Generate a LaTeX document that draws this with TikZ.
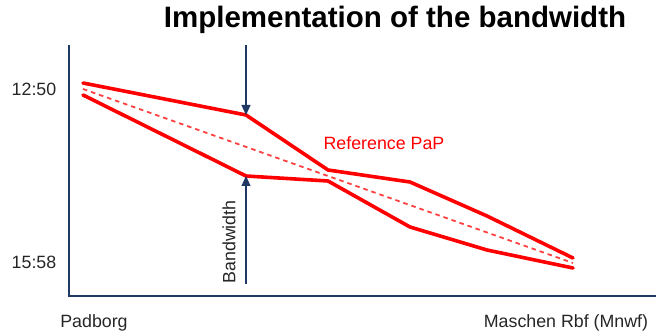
\documentclass[tikz,border=0pt]{standalone}
\usepackage{fontspec}
\setmainfont{Liberation Sans}
\usetikzlibrary{arrows.meta}
\definecolor{axisblue}{HTML}{1F3864}
\definecolor{labelgray}{HTML}{262626}
\begin{document}
\begin{tikzpicture}[x=1pt,y=-1pt,
  axisline/.style={draw=axisblue,line width=2.4pt},
  bandline/.style={draw=red,line width=3.6pt,line join=round,line cap=round},
  refline/.style={draw=red!75,line width=1.8pt,dash pattern=on 4.5pt off 4pt},
  marker/.style={draw=axisblue,line width=1.2pt,-{Triangle[width=9pt,length=10pt]}},
  lbl/.style={text=labelgray,font=\fontsize{17.8}{20}\selectfont,inner sep=0pt}]
  \useasboundingbox (0,0) rectangle (656,336);

  % axes
  \coordinate (top) at (69,45);
  \coordinate (origin) at (69,296);
  \coordinate (right) at (656,296);
  \draw[axisline] (top) -- (origin) -- (right);

  % upper band limit
  \coordinate (u1) at (83,83);
  \coordinate (u2) at (246,115);
  \coordinate (u3) at (328,170);
  \coordinate (u4) at (410,182);
  \coordinate (u5) at (487,216);
  \coordinate (u6) at (573,258);
  % lower band limit
  \coordinate (l1) at (83,95);
  \coordinate (l2) at (246,176);
  \coordinate (l3) at (328,181);
  \coordinate (l4) at (410,227);
  \coordinate (l5) at (487,250);
  \coordinate (l6) at (573,268);
  % reference path
  \coordinate (r1) at (83,89);
  \coordinate (r2) at (573,263);

  \draw[refline] (r1) -- (r2);
  \draw[bandline] (u1) -- (u2) -- (u3) -- (u4) -- (u5) -- (u6);
  \draw[bandline] (l1) -- (l2) -- (l3) -- (l4) -- (l5) -- (l6);

  % bandwidth markers
  \coordinate (mtop) at (246,45);
  \coordinate (mbot) at (246,284);
  \draw[marker] (mtop) -- (u2);
  \draw[marker] (mbot) -- (l2);

  % texts
  \node[font=\bfseries\fontsize{29.5}{34}\selectfont,inner sep=0pt] (title) at (395,20) {Implementation of the bandwidth};
  \node[lbl] (t1) at (34,89) {12:50};
  \node[lbl] (t2) at (34,262) {15:58};
  \node[lbl] (s1) at (94,323) {Padborg};
  \node[lbl] (s2) at (566,323) {Maschen Rbf (Mnwf)};
  \node[lbl,text=red] (ref) at (384,143) {Reference PaP};
  \node[lbl,rotate=90] (bw) at (229,242) {Bandwidth};
\end{tikzpicture}
\end{document}
